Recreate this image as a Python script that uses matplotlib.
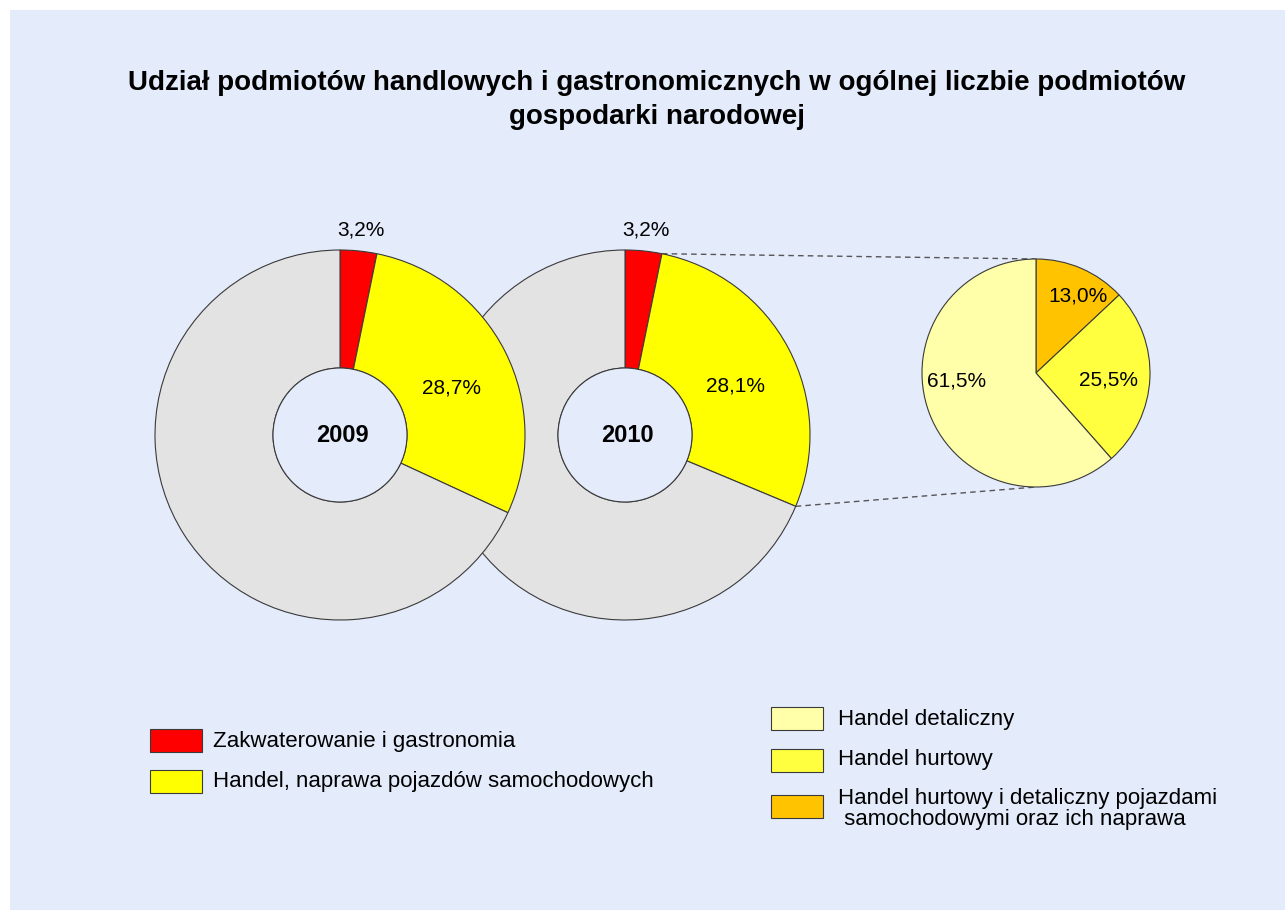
import matplotlib
matplotlib.use("Agg")
import matplotlib.pyplot as plt
import numpy as np
from matplotlib.patches import Rectangle

plt.rcParams['font.family'] = ['Liberation Sans', 'DejaVu Sans']

# ---------------- data ----------------
title = "Udział podmiotów handlowych i gastronomicznych w ogólnej liczbie podmiotów\ngospodarki narodowej"
years = ["2009", "2010"]
share_gastro = [3.2, 3.2]          # Zakwaterowanie i gastronomia
share_handel = [28.7, 28.1]        # Handel, naprawa pojazdów samochodowych
main_labels = ["Zakwaterowanie i gastronomia", "Handel, naprawa pojazdów samochodowych"]
sub_labels = ["Handel hurtowy i detaliczny pojazdami\n samochodowymi oraz ich naprawa",
              "Handel hurtowy", "Handel detaliczny"]
sub_values = [13.0, 25.5, 61.5]

# ---------------- style ----------------
W, H = 1285, 910
BG = "#e4ebfb"
C_RED = "#ff0000"
C_YEL = "#ffff00"
C_GRAY = "#e3e3e3"
SUB_COLORS = ["#ffc300", "#ffff40", "#ffffaa"]
EDGE = "#3a3a3a"

def fmt(v):
    return f"{v:.1f}".replace(".", ",") + "%"

fig = plt.figure(figsize=(W / 100, H / 100), dpi=100)
fig.patch.set_facecolor("white")
ax = fig.add_axes([0, 0, 1, 1])
ax.set_xlim(0, W)
ax.set_ylim(0, H)
ax.set_aspect("equal")
ax.axis("off")

def Y(py):
    return H - py

# background panel
ax.add_patch(Rectangle((10, 0), W - 10, H - 10, facecolor=BG, edgecolor="none", zorder=0))

ax.text(657, Y(100), title, ha="center", va="center", fontsize=20, fontweight="bold",
        linespacing=1.4, zorder=5)

# ---------------- donuts ----------------
R_OUT, R_IN = 185, 67
centers = [(340, 435), (625, 435)]
zorders = [3, 2]
wp = dict(width=R_OUT - R_IN, edgecolor=EDGE, linewidth=0.8)
for i in [1, 0]:
    cx, cy = centers[i]
    vals = [share_gastro[i], share_handel[i], 100 - share_gastro[i] - share_handel[i]]
    wedges, _ = ax.pie(vals, colors=[C_RED, C_YEL, C_GRAY], startangle=90, counterclock=False,
                       radius=R_OUT, center=(cx, Y(cy)), wedgeprops=wp, frame=True)
    for w in wedges:
        w.set_zorder(zorders[i])
    hole = plt.Circle((cx, Y(cy)), R_IN, facecolor=BG, edgecolor=EDGE, linewidth=0.8, zorder=zorders[i] + 0.1)
    ax.add_patch(hole)
    ax.text(cx + 2, Y(cy + 1), years[i], ha="center", va="center", fontsize=17, fontweight="bold",
            zorder=6)
    a_red = np.deg2rad(90 - 3.6 * share_gastro[i] / 2)
    ax.text(cx + 213 * np.cos(a_red), Y(cy) + 206 * np.sin(a_red), fmt(share_gastro[i]),
            ha="center", va="center", fontsize=15, zorder=6)
    a_y = np.deg2rad(90 - 3.6 * (share_gastro[i] + share_handel[i] / 2))
    ax.text(cx + 125 * np.cos(a_y), Y(cy) + 105 * np.sin(a_y), fmt(share_handel[i]),
            ha="center", va="center", fontsize=15, zorder=6)

# ---------------- sub pie ----------------
scx, scy, SR = 1036, 373, 114
wedges, _ = ax.pie(sub_values, colors=SUB_COLORS, startangle=90, counterclock=False,
                   radius=SR, center=(scx, Y(scy)),
                   wedgeprops=dict(edgecolor=EDGE, linewidth=0.8), frame=True)
for w in wedges:
    w.set_zorder(3)
sub_label_pos = [(42, -77), (73, 7), (-79, 8)]
for v, (dx, dy) in zip(sub_values, sub_label_pos):
    ax.text(scx + dx, Y(scy + dy), fmt(v), ha="center", va="center", fontsize=15, zorder=6)

# connector dashed lines from 2010 handel slice
cx, cy = centers[1]
a0 = np.deg2rad(90 - 3.6 * share_gastro[1])
a1 = np.deg2rad(90 - 3.6 * (share_gastro[1] + share_handel[1]))
p0 = (cx + R_OUT * np.cos(a0), Y(cy) + R_OUT * np.sin(a0))
p1 = (cx + R_OUT * np.cos(a1), Y(cy) + R_OUT * np.sin(a1))
ax.plot([p0[0], scx], [p0[1], Y(scy - SR)], ls=(0, (4, 3)), color="#555555", lw=1, zorder=1)
ax.plot([p1[0], scx], [p1[1], Y(scy + SR)], ls=(0, (4, 3)), color="#555555", lw=1, zorder=1)

ax.set_xlim(0, W)
ax.set_ylim(0, H)
ax.axis("off")

# ---------------- legends ----------------
def box(x, y, color, text, tx, ty):
    ax.add_patch(Rectangle((x, Y(y + 23)), 52, 23, facecolor=color, edgecolor=EDGE, lw=0.8, zorder=4))
    ax.text(tx, Y(ty), text, ha="left", va="center", fontsize=16, zorder=6, linespacing=1.05)

box(150, 729, C_RED, main_labels[0], 213, 741)
box(150, 770, C_YEL, main_labels[1], 213, 781)
box(771, 707, SUB_COLORS[2], sub_labels[2], 838, 719)
box(771, 749, SUB_COLORS[1], sub_labels[1], 838, 760)
box(771, 795, SUB_COLORS[0], sub_labels[0], 838, 809)

fig.savefig("out.png", dpi=100, facecolor=fig.get_facecolor())
